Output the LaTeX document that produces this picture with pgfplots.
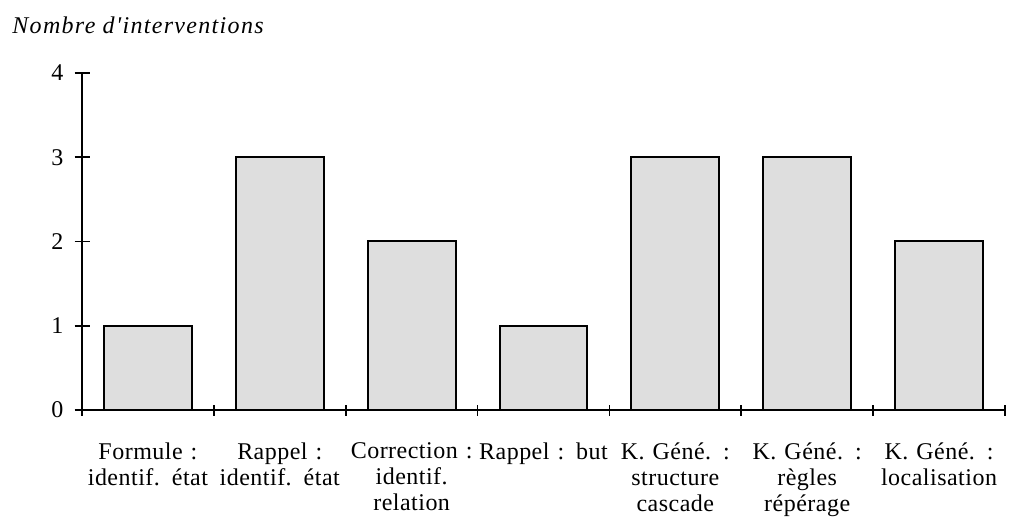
\documentclass[border=0pt]{standalone}
\usepackage{fontspec}
\setmainfont{Liberation Serif}[LetterSpace=2]
\newfontfamily\titlefont{Liberation Serif}[LetterSpace=5.5]
\usepackage{pgfplots}
\pgfplotsset{compat=1.18}
\begin{document}
\begin{tikzpicture}[font=\fontsize{12pt}{13pt}\selectfont]
\begin{axis}[
  at={(41pt,60pt)}, anchor=south west,
  scale only axis, width=461.5pt, height=168.5pt,
  xmin=-0.5, xmax=6.5, ymin=0, ymax=4,
  axis x line=bottom, axis y line=left,
  axis line style={line width=1pt, -},
  ytick={0,1,2,3,4},
  xtick={0,...,6},
  minor xtick={-0.5,0.5,...,6.5},
  major x tick style={draw=none},
  minor tick length=5.5pt, major tick length=7.5pt,
  tick align=center,
  tick style={line width=0.8pt, black},
  /pgf/number format/assume math mode=true,
  yticklabel style={anchor=east, xshift=-2pt},
  xticklabel style={align=center, anchor=north, yshift=-9pt, text width=70pt},
  xticklabels={{Formule :\\identif. état},{Rappel :\\identif. état},{Correction :\\identif.\\relation},{Rappel : but},{K. Géné. :\\structure\\cascade},{K. Géné. :\\règles\\répérage},{K. Géné. :\\localisation}},
  clip=false,
]
\addplot[ybar, bar width=0.667, fill=black!13, draw=black, line width=1pt] coordinates {(0,1) (1,3) (2,2) (3,1) (4,3) (5,3) (6,2)};
\end{axis}
\node[anchor=base west, inner sep=0pt, font=\titlefont\itshape\fontsize{12pt}{13pt}\selectfont] at (6pt,248pt) {Nombre d'interventions};
\pgfresetboundingbox
\path (0,0) rectangle (505pt,265pt);
\end{tikzpicture}
\end{document}
